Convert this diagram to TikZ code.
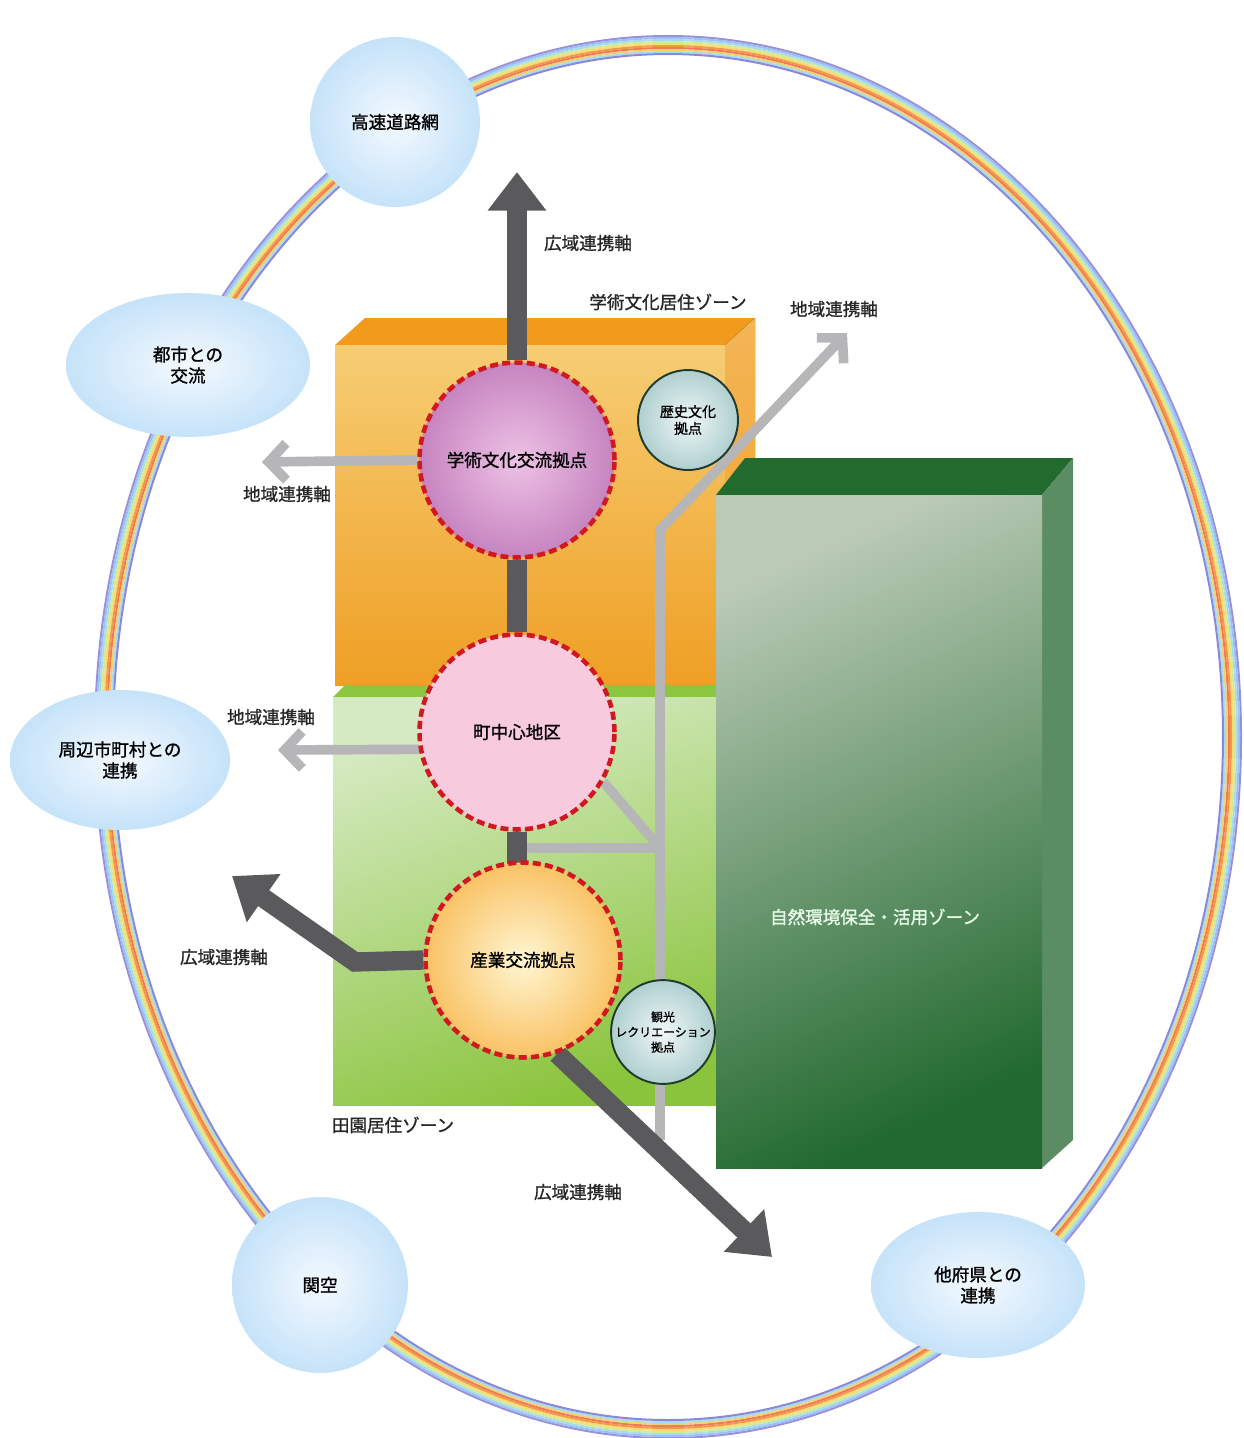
\documentclass[tikz,border=0pt]{standalone}
\usepackage{fontspec}
\newfontfamily\jpfont[FakeBold=1.2]{Noto Sans CJK JP}
\usetikzlibrary{arrows.meta, shapes.geometric}

\definecolor{WideAxis}{HTML}{5A5A5C}
\definecolor{LocalAxis}{HTML}{B6B6B8}
\definecolor{HubDash}{HTML}{D01820}
\definecolor{CenterPink}{HTML}{F7CADD}
\definecolor{SpotEdge}{HTML}{1E3B2C}
\definecolor{OrangeTop}{HTML}{F29A1C}
\definecolor{OrangeLight}{HTML}{F6CD74}
\definecolor{OrangeDeep}{HTML}{EF9F24}
\definecolor{OrangeSide}{HTML}{F4B556}
\definecolor{GreenTop}{HTML}{8CC63E}
\definecolor{GreenPale}{HTML}{D6EAC2}
\definecolor{GreenBright}{HTML}{8AC43C}
\definecolor{ForestTop}{HTML}{236A2E}
\definecolor{ForestPale}{HTML}{BACAB6}
\definecolor{ForestDeep}{HTML}{21692F}
\definecolor{ForestSide}{HTML}{5B8D65}
\definecolor{SkyCore}{HTML}{F4F9FE}
\definecolor{SkyMid}{HTML}{BCDEF8}
\definecolor{SkyRim}{HTML}{88C5F2}
\definecolor{PlumCore}{HTML}{EDC2E5}
\definecolor{PlumRim}{HTML}{A0469A}
\definecolor{AmberCore}{HTML}{FFF6D2}
\definecolor{AmberMid}{HTML}{F8BC58}
\definecolor{AmberRim}{HTML}{EE8612}
\definecolor{TealCore}{HTML}{F0F7F7}
\definecolor{TealRim}{HTML}{6FA7A8}
\definecolor{RainViolet}{HTML}{9B8FD9}
\definecolor{RainBlue}{HTML}{9CC0F2}
\definecolor{RainSky}{HTML}{A6DCF2}
\definecolor{RainLime}{HTML}{D8EA90}
\definecolor{RainYellow}{HTML}{F6DC78}
\definecolor{RainOrange}{HTML}{F29A4A}
\definecolor{RainRed}{HTML}{EE7A58}
\definecolor{RainGold}{HTML}{F6D070}
\definecolor{RainIndigo}{HTML}{8C88D8}

\pgfdeclareradialshading{skyglow}{\pgfpoint{0bp}{0bp}}{color(0bp)=(SkyCore); color(30bp)=(SkyMid); color(50bp)=(SkyRim)}
\pgfdeclareradialshading{plumglow}{\pgfpoint{0bp}{0bp}}{color(0bp)=(PlumCore); color(50bp)=(PlumRim)}
\pgfdeclareradialshading{amberglow}{\pgfpoint{0bp}{0bp}}{color(0bp)=(AmberCore); color(28bp)=(AmberMid); color(50bp)=(AmberRim)}
\pgfdeclareradialshading{tealglow}{\pgfpoint{0bp}{0bp}}{color(0bp)=(TealCore); color(50bp)=(TealRim)}

\pgfdeclarelayer{back}
\pgfdeclarelayer{axes}
\pgfsetlayers{back,axes,main}

\begin{document}
\begin{tikzpicture}[x=0.02cm, y=-0.02cm,
  font=\jpfont\fontsize{10}{12}\selectfont,
  link/.style={shade, shading=skyglow, inner sep=0pt, align=center},
  hub/.style={circle, minimum size=3.9cm, inner sep=0pt, draw=HubDash,
              line width=2.6pt, dash pattern=on 4.6pt off 2.4pt},
  spot/.style={circle, minimum size=2cm, inner sep=0pt, draw=SpotEdge,
               line width=1.1pt, shade, shading=tealglow, align=center,
               font=\jpfont\fontsize{8}{9.5}\selectfont},
  wide/.style={draw=WideAxis, line width=11pt, -{Triangle[width=32pt,length=22pt]}},
  wideline/.style={draw=WideAxis, line width=11pt},
  local/.style={draw=LocalAxis, line width=5.5pt,
                -{Straight Barb[width=21pt,length=10pt,line width=5.5pt]}},
  localline/.style={draw=LocalAxis, line width=5.5pt},
  axislabel/.style={inner sep=1pt, text=black!85}]

\useasboundingbox (0,0) rectangle (1244,1438);

\begin{pgfonlayer}{back}
\foreach \s/\c in {9/RainViolet, 7/RainBlue, 5/RainSky, 3/RainLime, 1/RainYellow,
                   -1/RainOrange, -3/RainRed, -5/RainGold, -7/RainSky, -9/RainIndigo}
  \draw[\c, line width=1.15pt] (668,737) ellipse [x radius=564+\s, y radius=692+\s];

% academic zone
\fill[OrangeTop] (335,345) -- (365,318) -- (755,318) -- (725,345) -- cycle;
\fill[top color=OrangeSide, bottom color=OrangeDeep] (725,345) -- (755,318) -- (755,660) -- (725,685) -- cycle;
\fill[top color=OrangeLight, bottom color=OrangeDeep] (335,345) rectangle (725,685);

% rural zone
\fill[GreenTop] (333,697) -- (345,685) -- (725,685) -- (720,697) -- cycle;
\fill[top color=GreenPale, bottom color=GreenBright, shading angle=20] (333,697) rectangle (718,1105);

% nature zone
\fill[ForestTop] (716,495) -- (745,458) -- (1073,458) -- (1042,495) -- cycle;
\fill[ForestSide] (1042,495) -- (1073,458) -- (1073,1140) -- (1042,1168) -- cycle;
\fill[top color=ForestPale, bottom color=ForestDeep, shading angle=25] (716,495) rectangle (1042,1168);
\end{pgfonlayer}

\node[link, circle, minimum size=3.4cm] (highway) at (395,122) {高速道路網};
\node[link, ellipse, minimum width=4.88cm, minimum height=2.88cm] (city) at (188,365) {都市との\\交流};
\node[link, ellipse, minimum width=4.4cm, minimum height=2.8cm] (towns) at (120,760) {周辺市町村との\\連携};
\node[link, circle, minimum size=3.52cm] (airport) at (320,1285) {関空};
\node[link, ellipse, minimum width=4.28cm, minimum height=2.92cm] (prefs) at (978,1285) {他府県との\\連携};

\node[hub, shade, shading=plumglow] (academic) at (517,460) {学術文化交流拠点};
\node[hub, fill=CenterPink] (center) at (517,732) {町中心地区};
\node[hub, shade, shading=amberglow] (industry) at (523,960) {産業交流拠点};

\node[spot] (history) at (688,420) {歴史文化\\拠点};
\node[spot, minimum size=1.92cm, font=\jpfont\fontsize{6.8}{8.6}\selectfont] (tourism) at (663,1032) {観光\\レクリエーション\\拠点};

\coordinate (wideN) at (517,172);
\coordinate (bendW) at (355,962);
\coordinate (wideW) at (232,876);
\coordinate (wideSE) at (772,1257);
\coordinate (localW1) at (262,462);
\coordinate (localW2) at (278,750);
\coordinate (localS) at (660,1140);
\coordinate (localBend) at (660,530);
\coordinate (localNE) at (847,333);
\coordinate (junction) at (660,848);
\coordinate (linkCI) at (517,848);

\begin{pgfonlayer}{axes}
\draw[local] (academic.west) -- (localW1);
\draw[local] (center.190) -- (localW2);
\draw[local] (localS) -- (localBend) -- (localNE);
\draw[localline] (center.-30) -- (junction);
\draw[localline] (linkCI) -- (junction);

\draw[wide] (academic.north) -- (wideN);
\draw[wideline] (academic) -- (center) -- (center |- industry);
\draw[wide] (industry.west) -- (bendW) -- (wideW);
\draw[wide] (industry.-70) -- (wideSE);
\end{pgfonlayer}

\node[axislabel] (labelN) at (588,243) {広域連携軸};
\node[axislabel] (academicZone) at (668,302) {学術文化居住ゾーン};
\node[axislabel] (labelNE) at (834,309) {地域連携軸};
\node[axislabel] (labelW1) at (287,494) {地域連携軸};
\node[axislabel] (labelW2) at (271,717) {地域連携軸};
\node[axislabel] (labelW) at (224,957) {広域連携軸};
\node[axislabel] (ruralZone) at (393,1125) {田園居住ゾーン};
\node[axislabel] (labelSE) at (578,1192) {広域連携軸};
\node[axislabel, text=white!92!green] (natureZone) at (875,917) {自然環境保全・活用ゾーン};

\end{tikzpicture}
\end{document}
